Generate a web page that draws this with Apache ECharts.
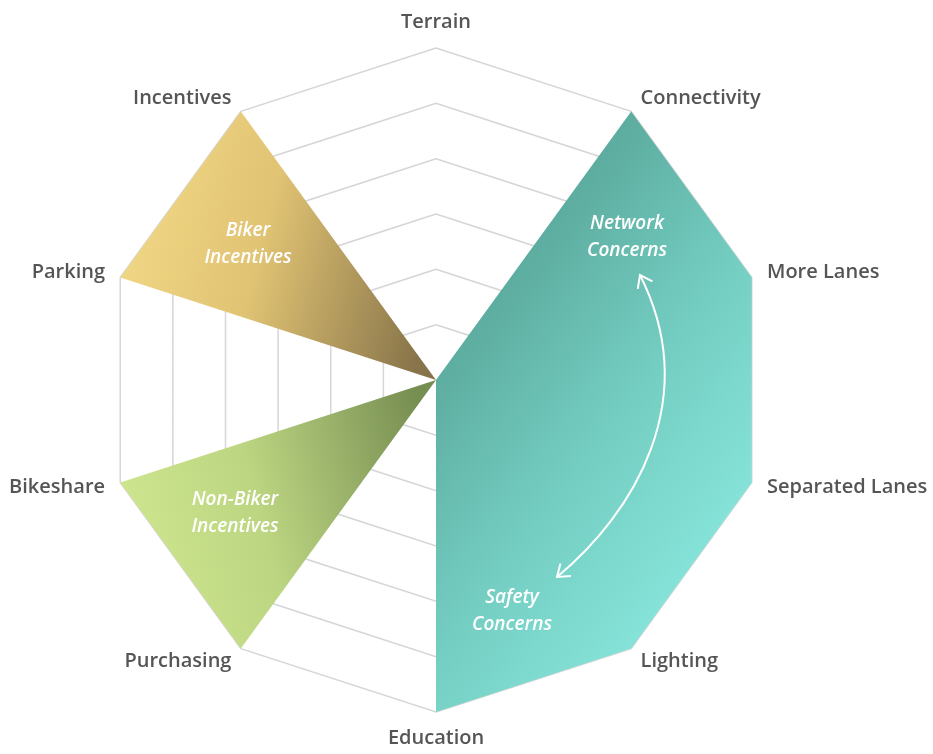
<!DOCTYPE html>
<html>
<head>
<meta charset="utf-8">
<script src="https://cdn.jsdelivr.net/npm/echarts@6/dist/echarts.min.js"></script>
<style>
  html, body { margin: 0; padding: 0; background: #fff; }
  #chart { width: 933px; height: 754px; }
</style>
</head>
<body>
<div id="chart"></div>
<script>
// indicators go counterclockwise from the top
const indicators = ['Terrain', 'Incentives', 'Parking', 'Bikeshare', 'Purchasing',
  'Education', 'Lighting', 'Separated Lanes', 'More Lanes', 'Connectivity'];
const maxValue = 6;
const networkSafety = [0, 0, 0, 0, 0, 6, 6, 6, 6, 6];
const bikerIncentives = [0, 6, 6, 0, 0, 0, 0, 0, 0, 0];
const nonBikerIncentives = [0, 0, 0, 6, 6, 0, 0, 0, 0, 0];
const areaLabels = ['Biker\nIncentives', 'Non-Biker\nIncentives', 'Network\nConcerns', 'Safety\nConcerns'];

const cx = 436, cy = 380, R = 332;
const chart = echarts.init(document.getElementById('chart'));

function grad(x, y, x2, y2, stops) {
  return new echarts.graphic.LinearGradient(x, y, x2, y2,
    stops.map(s => ({ offset: s[0], color: s[1] })));
}

function arrowHead(tip, from) {
  const dx = from[0] - tip[0], dy = from[1] - tip[1];
  const len = Math.hypot(dx, dy);
  const ux = dx / len, uy = dy / len;
  const L = 14, a = Math.PI / 5;
  const leg = s => [tip[0] + L * (ux * Math.cos(s * a) - uy * Math.sin(s * a)),
                    tip[1] + L * (ux * Math.sin(s * a) + uy * Math.cos(s * a))];
  return {
    type: 'polyline', silent: true, z: 100,
    shape: { points: [leg(1), tip, leg(-1)] },
    style: { stroke: '#fff', lineWidth: 2, fill: null }
  };
}

const labelStyle = {
  fill: '#fff', fontFamily: 'Open Sans', fontSize: 19, fontStyle: 'italic', fontWeight: 600,
  align: 'center', verticalAlign: 'middle', lineHeight: 27
};
const labelPos = [[cx - 188, cy - 136], [cx - 201, cy + 133], [cx + 191, cy - 143], [cx + 76, cy + 231]];

const p0 = [640, 275], p1 = [703, 400], p2 = [634, 513], p3 = [557, 577];

chart.setOption({
  animation: false,
  backgroundColor: '#fff',
  radar: {
    center: [cx, cy],
    radius: R,
    startAngle: 90,
    splitNumber: 6,
    shape: 'polygon',
    indicator: indicators.map(n => ({ name: n, max: maxValue, min: 0 })),
    axisName: {
      color: '#555', fontSize: 20, fontWeight: 600, fontFamily: 'Open Sans'
    },
    nameGap: 16,
    axisLine: { show: false },
    axisTick: { show: false },
    axisLabel: { show: false },
    splitArea: { show: false },
    splitLine: { lineStyle: { color: '#d6d6d6', width: 1.5 } }
  },
  series: [{
    type: 'radar',
    symbol: 'none',
    silent: true,
    data: [
      {
        value: networkSafety,
        lineStyle: { width: 0 },
        areaStyle: { opacity: 1, color: grad(0, 0.3, 1, 0.7, [[0, '#56a396'], [0.55, '#74cdc1'], [1, '#88e6dc']]) }
      },
      {
        value: bikerIncentives,
        lineStyle: { width: 0 },
        areaStyle: { opacity: 1, color: grad(0, 0.35, 1, 0.65, [[0, '#f2d986'], [0.45, '#e0c373'], [1, '#88744a']]) }
      },
      {
        value: nonBikerIncentives,
        lineStyle: { width: 0 },
        areaStyle: { opacity: 1, color: grad(0, 0.65, 1, 0.35, [[0, '#cfe78f'], [0.45, '#bcd581'], [1, '#778e52']]) }
      }
    ]
  }],
  graphic: [
    ...areaLabels.map((t, i) => ({
      type: 'text', silent: true, z: 100, x: labelPos[i][0], y: labelPos[i][1],
      style: Object.assign({ text: t }, labelStyle)
    })),
    {
      type: 'bezierCurve', silent: true, z: 100,
      shape: { x1: p0[0], y1: p0[1], cpx1: p1[0], cpy1: p1[1], cpx2: p2[0], cpy2: p2[1], x2: p3[0], y2: p3[1] },
      style: { stroke: '#fff', lineWidth: 2, fill: null }
    },
    arrowHead(p0, p1),
    arrowHead(p3, p2)
  ]
});
</script>
</body>
</html>
